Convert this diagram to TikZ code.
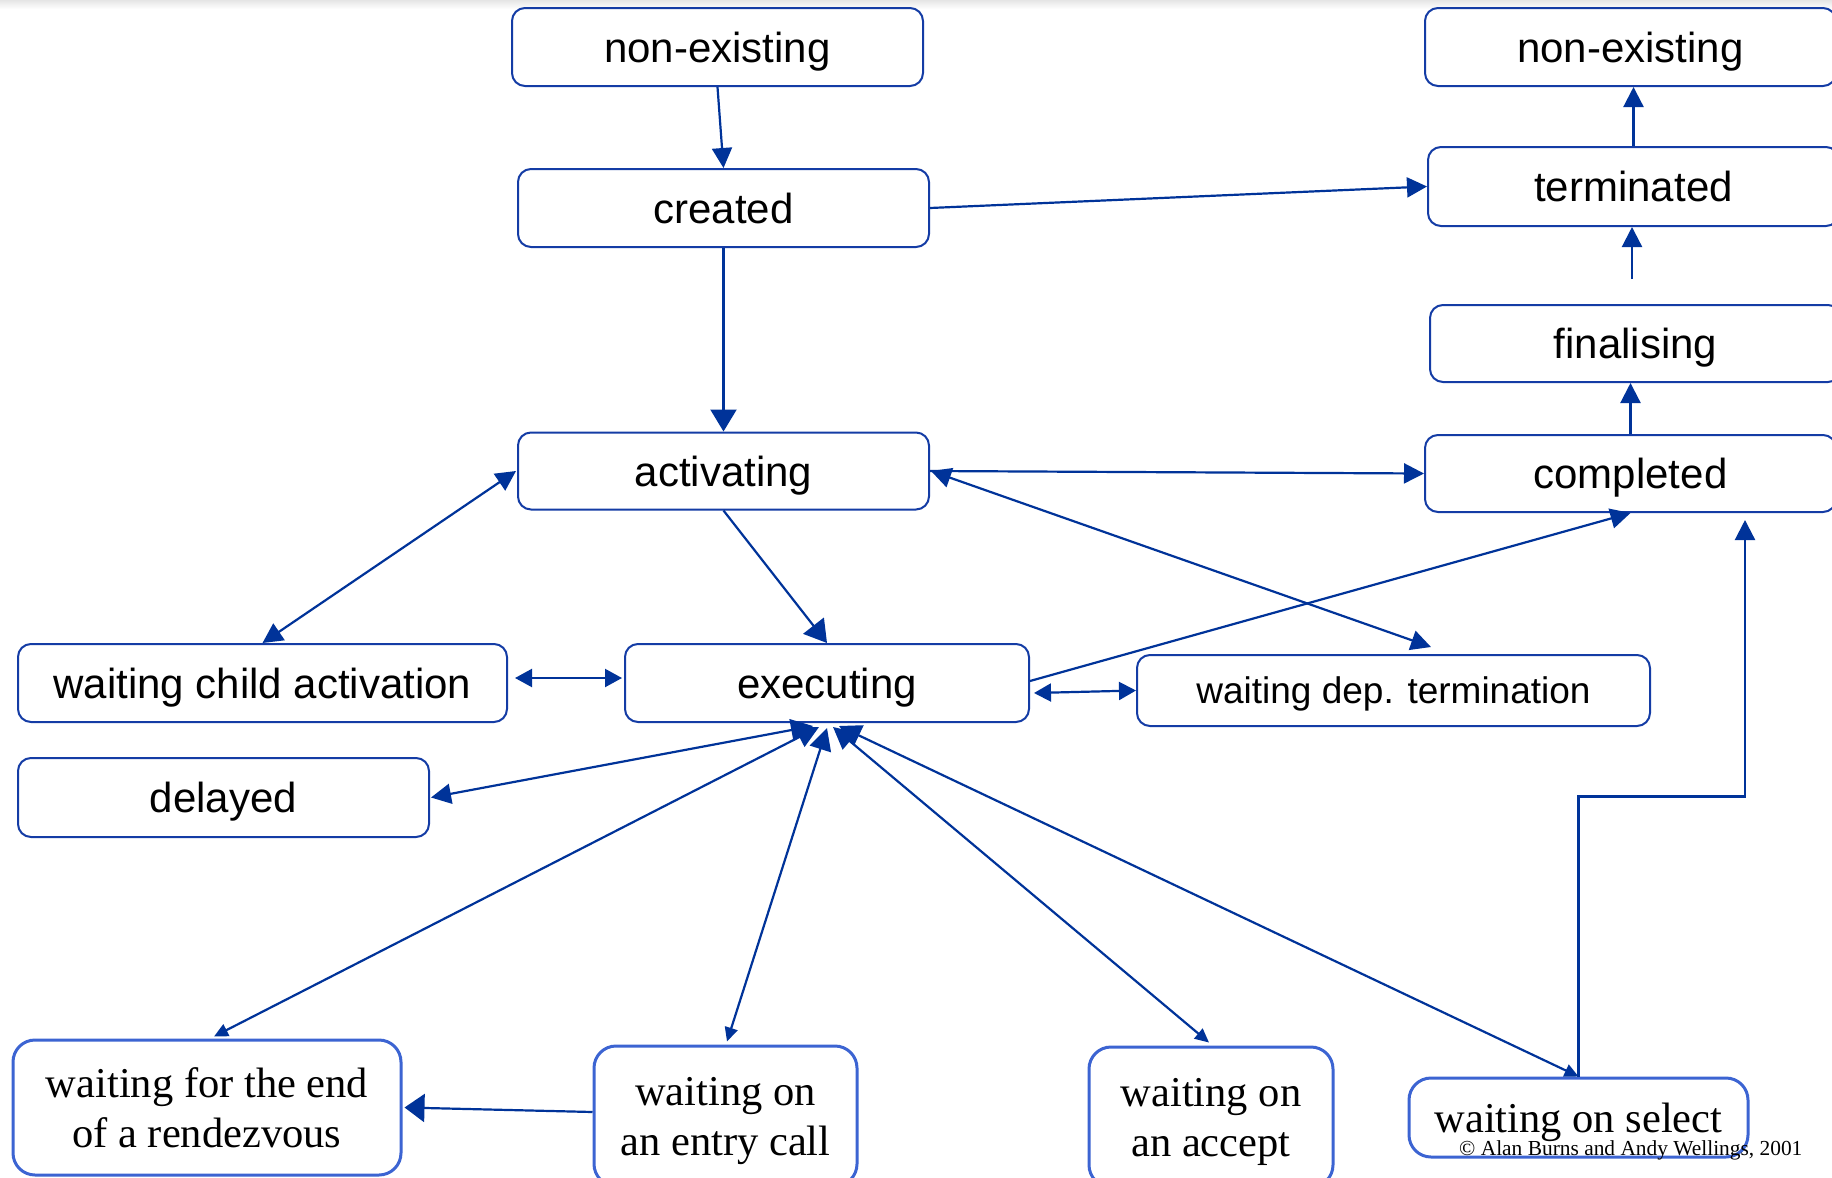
\documentclass[tikz,border=0pt]{standalone}
\usepackage{fontspec}
\setmainfont{Liberation Serif}
\setsansfont{Liberation Sans}
\usetikzlibrary{arrows.meta,calc}

\definecolor{arrowblue}{RGB}{0,51,153}
\definecolor{boxblue}{RGB}{20,60,165}
\definecolor{lightboxblue}{RGB}{60,100,210}

\begin{document}
\begin{tikzpicture}[x=1pt,y=-1pt,
  statebox/.style={draw=boxblue, line width=2pt, rounded corners=13pt, fill=white,
    inner sep=0pt, minimum width=411pt, minimum height=78pt, text depth=0pt,
    font=\sffamily\fontsize{42}{50}\selectfont, align=center},
  waitbox/.style={draw=lightboxblue, line width=3pt, rounded corners=22pt, fill=white,
    inner sep=0pt, text depth=0pt, font=\rmfamily\fontsize{42.5}{50}\selectfont, align=center},
  flow/.style={draw=arrowblue, line width=2.2pt},
  HeadXL/.tip={Triangle[length=22pt,width=26pt]},
  HeadL/.tip={Triangle[length=20pt,width=20pt]},
  HeadH/.tip={Triangle[length=22pt,width=22pt]},
  HeadM/.tip={Triangle[length=17pt,width=18pt]},
  HeadS/.tip={Triangle[length=14pt,width=13pt]},
  HeadW/.tip={Triangle[length=20pt,width=28pt]},
]
\useasboundingbox (0,0) rectangle (1832,1178);
\fill[white] (0,0) rectangle (1832,1178);
\shade[top color=black!10, bottom color=white] (0,0) rectangle (1832,9);

% --- upper states (sans serif) ---
\node[statebox] (neL) at (717.5,47) {non-existing};
\node[statebox] (created) at (723.5,208) {created};
\node[statebox, minimum height=77pt] (activating) at (723.5,471) {activating};
\node[statebox, minimum width=489pt] (wca) at (262.5,683) {waiting child activation};
\node[statebox, minimum width=404pt] (exec) at (827,683) {executing};
\node[statebox, minimum width=513pt, minimum height=71pt,
      font=\sffamily\fontsize{37}{44}\selectfont] (wdt) at (1393.5,690.5) {waiting dep. termination};
\node[statebox, minimum height=79pt] (delayed) at (223.5,797.5) {delayed};

\node[statebox] (neR) at (1630.5,47) {non-existing};
\node[statebox, minimum height=79pt] (term) at (1633.5,186.5) {terminated};
\node[statebox, minimum height=77pt] (fin) at (1635.5,343.5) {finalising};
\node[statebox, minimum height=77pt] (compl) at (1630.5,473.5) {completed};

% --- waiting states (serif) ---
\node[waitbox, minimum width=388pt, minimum height=135pt] (rend) at (207,1107.5)
  {waiting for the end\\of a rendezvous};
\node[waitbox, minimum width=263pt, minimum height=140pt] (entry) at (725.5,1116)
  {waiting on\\an entry call};
\node[waitbox, minimum width=244pt, minimum height=140pt] (accept) at (1211,1117)
  {waiting on\\an accept};
\node[waitbox, minimum width=339pt, minimum height=79pt] (select) at (1578.5,1117.5)
  {waiting on select};

% --- transitions ---
\draw[flow, -{HeadL}] (neL.south) -- (created.north);
\draw[flow, -{HeadXL}] (created.south) -- (activating.north);
\draw[flow, -{HeadL}] (created.east) -- (term.west);
\draw[flow, -{HeadL}] (term.north) -- (term.north |- neR.south);
\coordinate (finTop) at (1632,279);
\draw[flow, -{HeadL}] (finTop) -- (finTop |- term.south);
\draw[flow, -{HeadL}] (compl.north) -- (compl.north |- fin.south);

\draw[flow, -{HeadL}] (activating.east) -- (compl.west);
\draw[flow, {HeadL}-{HeadL}] ([xshift=1pt]activating.east) -- ([xshift=37.5pt,yshift=7pt]wdt.north);
\draw[flow, -{HeadXL}] (activating.south) -- (exec.north);
\draw[flow, {HeadL}-{HeadL}] ([xshift=-1pt]activating.west) -- (wca.north);
\draw[flow, {HeadM}-{HeadM}] ([xshift=7pt,yshift=5pt]wca.east) -- ([xshift=-2pt,yshift=5pt]exec.west);
\draw[flow, -{HeadL}] ([yshift=2pt]exec.east) -- (compl.south);
\draw[flow, {HeadM}-{HeadM}] ([xshift=4pt,yshift=-10pt]exec.east) -- (wdt.west);

% transitions fanning out from the bottom of "executing"
\draw[flow, {HeadH}-{HeadL}] ([xshift=-14pt,yshift=-3pt]exec.south) -- ([xshift=1pt]delayed.east);
\draw[flow, {HeadH}-{HeadS}] ([xshift=-8pt,yshift=-4pt]exec.south) -- ([xshift=7pt,yshift=2pt]rend.north);
\draw[flow, {HeadH}-{HeadS}] ([yshift=-5pt]exec.south) -- ([xshift=1.5pt,yshift=3pt]entry.north);
\draw[flow, {HeadH}-{HeadS}] ([xshift=6pt,yshift=-4pt]exec.south) -- ([xshift=-2pt,yshift=3pt]accept.north);
\draw[flow, {HeadH}-{HeadS}] ([xshift=12pt,yshift=-3pt]exec.south) -- (select.north);

\draw[flow, -{HeadW}] ([yshift=4pt]entry.west) -- ([xshift=2pt]rend.east);
\draw[flow, -{HeadL}] (select.north) -- ++(0,-280) -| ([xshift=114.5pt,yshift=-7pt]compl.south);

\node[font=\rmfamily\fontsize{21.4}{24}\selectfont, anchor=west, inner sep=0pt] (copy) at (1459,1150)
  {© Alan Burns and Andy Wellings, 2001};
\end{tikzpicture}
\end{document}
